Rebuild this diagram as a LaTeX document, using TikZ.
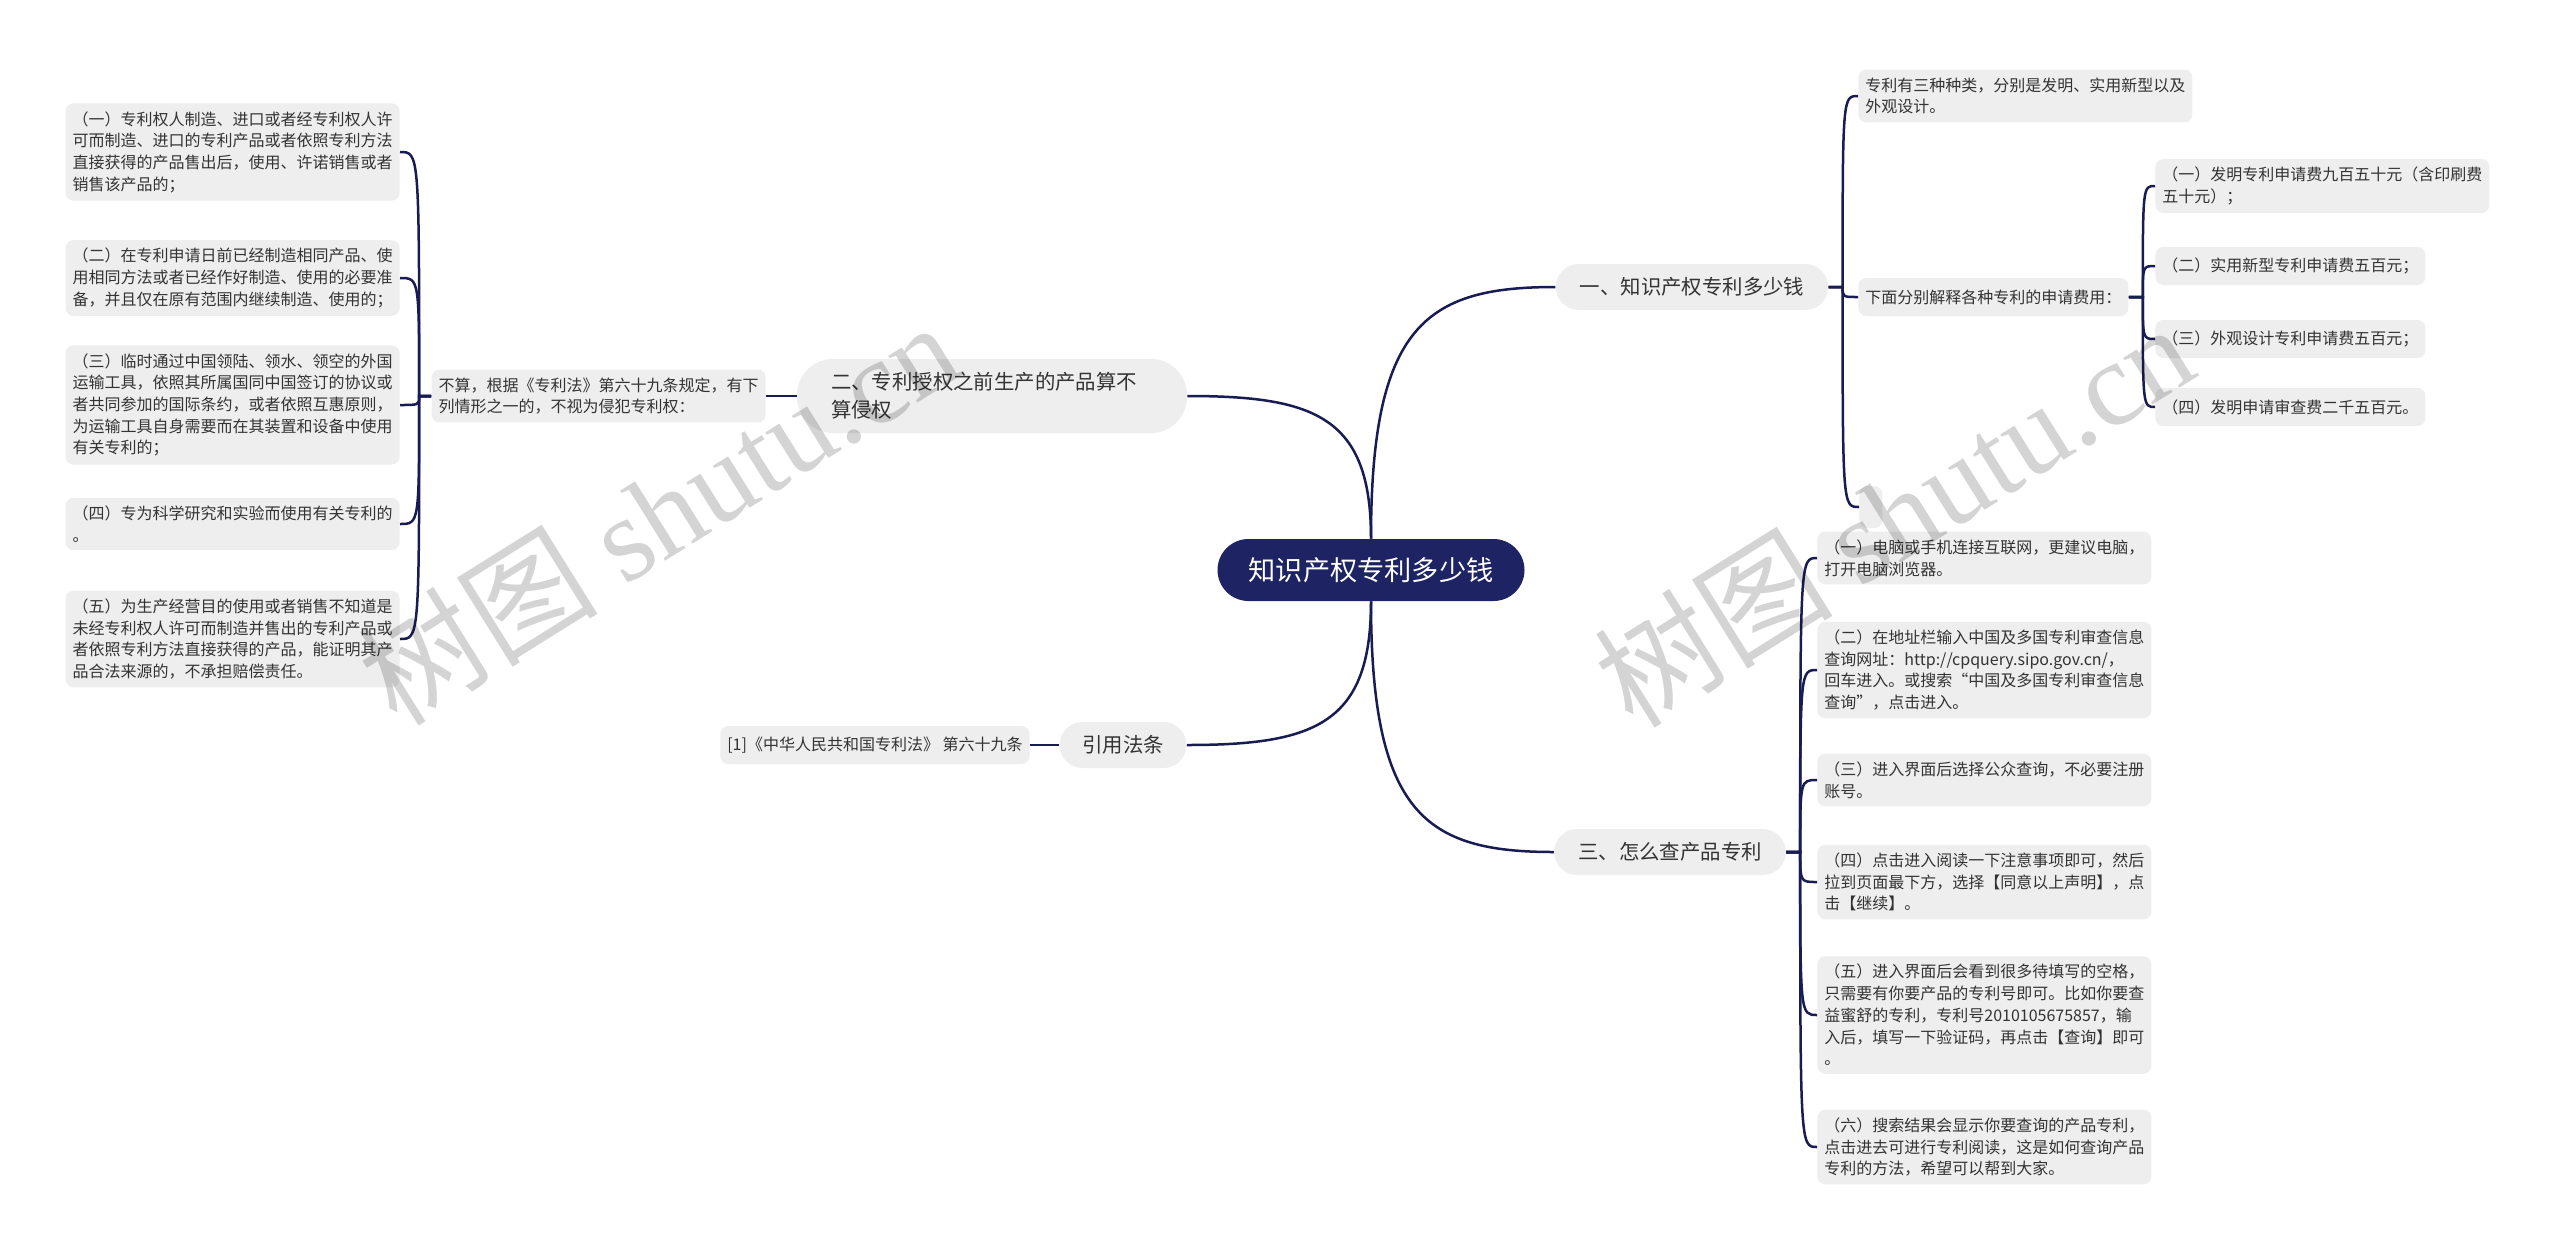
\documentclass[tikz,border=0pt]{standalone}
\usepackage{fontspec}
\setmainfont{Noto Sans CJK SC}
\newfontfamily\wmlatin{Liberation Serif}
\usetikzlibrary{calc}

\definecolor{navy}{RGB}{29,35,99}
\definecolor{linkc}{RGB}{24,28,82}
\definecolor{boxgray}{RGB}{238,238,238}
\definecolor{txt}{RGB}{51,51,51}

\begin{document}
\begin{tikzpicture}[
  x=0.5pt, y=-0.5pt,
  link/.style={draw=linkc, line width=1.25pt},
  root/.style={fill=navy, text=white, rounded corners=15.5pt, minimum height=31pt, minimum width=153.5pt, font=\fontsize{13.6}{16}\selectfont},
  topic/.style={fill=boxgray, text=txt, rounded corners=11.5pt, minimum height=23pt, inner xsep=12pt, font=\fontsize{10.2}{14}\selectfont},
  leaf/.style={fill=boxgray, text=txt, rounded corners=4pt, inner xsep=3.5pt, inner ysep=4pt, minimum height=19pt, font=\fontsize{8}{10.85}\selectfont, align=left},
  wide/.style={leaf, text width=160pt},
  wmark/.style={text=black, text opacity=.17, rotate=32, font=\fontsize{60}{64}\selectfont}
]
  \useasboundingbox (0,0) rectangle (2560,1254);
  \fill[white] (0,0) rectangle (2560,1254);

  % centre and main topics
  \node[root] (root) at (1371,570) {知识产权专利多少钱};
  \node[topic] (b1) at (1692,287) {一、知识产权专利多少钱};
  \node[topic, text width=161pt, align=left, inner xsep=17pt, rounded corners=18pt, minimum height=37pt] (b2) at (992,396) {二、专利授权之前生产的产品算不\\算侵权};
  \node[topic, inner xsep=11.3pt] (b3) at (1123,745) {引用法条};
  \node[topic] (b4) at (1670,852) {三、怎么查产品专利};

  \draw[link] (root.north) .. controls ($(root.north)!.85!(root.north |- b1.west)$) and ($(b1.west)!.7!(root.north |- b1.west)$) .. (b1.west);
  \draw[link] (root.north) .. controls ($(root.north)!.85!(root.north |- b2.east)$) and ($(b2.east)!.7!(root.north |- b2.east)$) .. (b2.east);
  \draw[link] (root.south) .. controls ($(root.south)!.85!(root.south |- b3.east)$) and ($(b3.east)!.7!(root.south |- b3.east)$) .. (b3.east);
  \draw[link] (root.south) .. controls ($(root.south)!.85!(root.south |- b4.west)$) and ($(b4.west)!.7!(root.south |- b4.west)$) .. (b4.west);

  % branch one
  \node[wide, anchor=west] (c1a) at (1858,96) {专利有三种种类，分别是发明、实用新型以及\\外观设计。};
  \node[leaf, anchor=west] (c1b) at (1858,297) {下面分别解释各种专利的申请费用：};
  \node[leaf, anchor=west, minimum width=11.5pt, minimum height=21pt, inner sep=0pt] (c1c) at (1859,507) {};
  \foreach \n in {c1a,c1b,c1c}
    \draw[link] (b1.east) -- ++(7pt,0) coordinate (k) .. controls (k |- \n.west) .. (\n.west);

  \node[wide, anchor=west] (f1) at (2155,186) {（一）发明专利申请费九百五十元（含印刷费\\五十元）；};
  \node[leaf, anchor=west] (f2) at (2155,266) {（二）实用新型专利申请费五百元；};
  \node[leaf, anchor=west] (f3) at (2155,339) {（三）外观设计专利申请费五百元；};
  \node[leaf, anchor=west] (f4) at (2155,407) {（四）发明申请审查费二千五百元。};
  \foreach \n in {f1,f2,f3,f4}
    \draw[link] (c1b.east) -- ++(7pt,0) coordinate (k) .. controls (k |- \n.west) .. (\n.west);

  % branch two
  \node[wide, anchor=east] (s2) at (766,396) {不算，根据《专利法》第六十九条规定，有下\\列情形之一的，不视为侵犯专利权：};
  \draw[link] (b2.west) -- (s2.east);
  \node[wide, anchor=east] (l1) at (400,152) {（一）专利权人制造、进口或者经专利权人许\\可而制造、进口的专利产品或者依照专利方法\\直接获得的产品售出后，使用、许诺销售或者\\销售该产品的；};
  \node[wide, anchor=east] (l2) at (400,278) {（二）在专利申请日前已经制造相同产品、使\\用相同方法或者已经作好制造、使用的必要准\\备，并且仅在原有范围内继续制造、使用的；};
  \node[wide, anchor=east] (l3) at (400,405) {（三）临时通过中国领陆、领水、领空的外国\\运输工具，依照其所属国同中国签订的协议或\\者共同参加的国际条约，或者依照互惠原则，\\为运输工具自身需要而在其装置和设备中使用\\有关专利的；};
  \node[wide, anchor=east] (l4) at (400,524) {（四）专为科学研究和实验而使用有关专利的\\。};
  \node[wide, anchor=east] (l5) at (400,639) {（五）为生产经营目的使用或者销售不知道是\\未经专利权人许可而制造并售出的专利产品或\\者依照专利方法直接获得的产品，能证明其产\\品合法来源的，不承担赔偿责任。};
  \foreach \n in {l1,l2,l3,l4,l5}
    \draw[link] (s2.west) -- ++(-6pt,0) coordinate (k) .. controls (k |- \n.east) .. (\n.east);

  % references
  \node[leaf, anchor=east] (s3) at (1030,745) {[1]《中华人民共和国专利法》 第六十九条};
  \draw[link] (b3.west) -- (s3.east);

  % branch three
  \node[wide, anchor=west] (d1) at (1817,558) {（一）电脑或手机连接互联网，更建议电脑，\\打开电脑浏览器。};
  \node[wide, anchor=west] (d2) at (1817,670) {（二）在地址栏输入中国及多国专利审查信息\\查询网址：http://cpquery.sipo.gov.cn/，\\回车进入。或搜索“中国及多国专利审查信息\\查询”，点击进入。};
  \node[wide, anchor=west] (d3) at (1817,780) {（三）进入界面后选择公众查询，不必要注册\\账号。};
  \node[wide, anchor=west] (d4) at (1817,882) {（四）点击进入阅读一下注意事项即可，然后\\拉到页面最下方，选择【同意以上声明】，点\\击【继续】。};
  \node[wide, anchor=west] (d5) at (1817,1015) {（五）进入界面后会看到很多待填写的空格，\\只需要有你要产品的专利号即可。比如你要查\\益蜜舒的专利，专利号2010105675857，输\\入后，填写一下验证码，再点击【查询】即可\\。};
  \node[wide, anchor=west] (d6) at (1817,1147) {（六）搜索结果会显示你要查询的产品专利，\\点击进去可进行专利阅读，这是如何查询产品\\专利的方法，希望可以帮到大家。};
  \foreach \n in {d1,d2,d3,d4,d5,d6}
    \draw[link] (b4.east) -- ++(7pt,0) coordinate (k) .. controls (k |- \n.west) .. (\n.west);

  % watermarks
  \node[wmark] (wm1) at (658,512) {树图 {\wmlatin shutu.cn}};
  \node[wmark] (wm2) at (1893,514) {树图 {\wmlatin shutu.cn}};
\end{tikzpicture}
\end{document}
